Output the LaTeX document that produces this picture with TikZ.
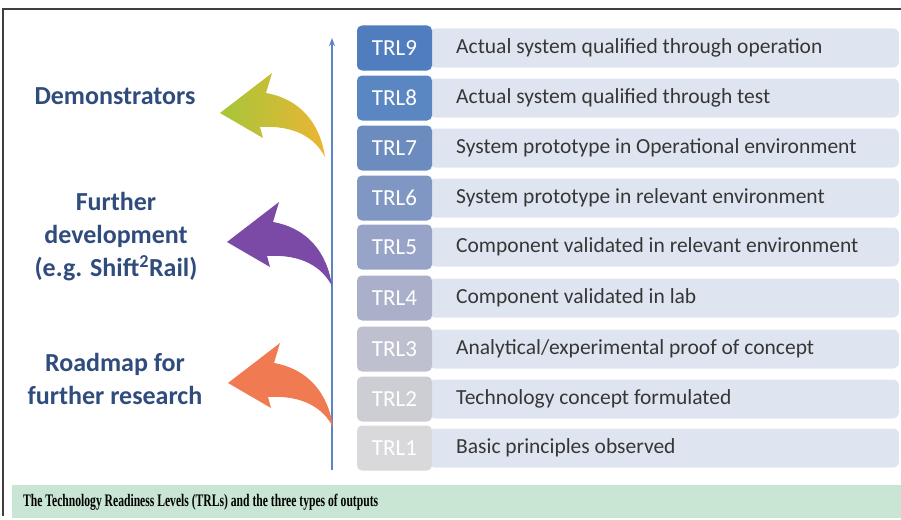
\documentclass[tikz,border=0pt]{standalone}
\usepackage{fontspec}
\setmainfont{Carlito}
\newfontfamily\capfont[FakeStretch=0.66]{Liberation Serif}
\usetikzlibrary{arrows.meta}
\definecolor{framec}{HTML}{404040}
\definecolor{capfill}{HTML}{C9E5D3}
\definecolor{barc}{HTML}{DFE5F0}
\definecolor{rowtxt}{HTML}{363636}
\definecolor{lbl}{HTML}{2F4C7C}
\definecolor{axisc}{HTML}{5B86C6}
\definecolor{t9}{HTML}{4F7DBE}
\definecolor{t8}{HTML}{5A86C2}
\definecolor{t7}{HTML}{6C8CC0}
\definecolor{t6}{HTML}{8097C3}
\definecolor{t5}{HTML}{97A4C7}
\definecolor{t4}{HTML}{AAB0CA}
\definecolor{t3}{HTML}{BEC0CF}
\definecolor{t2}{HTML}{CDCDD4}
\definecolor{t1}{HTML}{D9D9DC}
\definecolor{ygL}{HTML}{A6C63A}
\definecolor{ygR}{HTML}{EBB533}
\definecolor{purL}{HTML}{7A4AA6}
\definecolor{orL}{HTML}{F07A52}
\tikzset{
  bar/.style={fill=barc, rounded corners=6pt, minimum width=470pt, minimum height=39pt, inner sep=0pt},
  trlbox/.style={rounded corners=5pt, minimum width=75pt, minimum height=45pt, inner sep=0pt, text=white, font=\fontsize{23}{25}\selectfont},
  rowtext/.style={anchor=west, text=rowtxt, inner sep=0pt, font=\fontsize{21.5}{24}\selectfont},
  sidelbl/.style={text=lbl, align=center, inner sep=0pt, font=\bfseries\fontsize{26}{33}\selectfont},
  curvarrow/.pic={\path[pic actions] (0,0) -- (52,-40) -- (46,-20) .. controls (80,-14) and (100,10) .. (105,44) .. controls (95,25) and (75,12) .. (40,14) -- (43,25) -- cycle;}
}
\begin{document}
\begin{tikzpicture}[x=1pt,y=-1pt]
\useasboundingbox (0,0) rectangle (901,519);
\draw[framec, line width=1.2pt] (3,516) -- (3,9) -- (901,9);
\fill[capfill] (12,485) rectangle (901,518);
\node[anchor=base west, inner sep=0pt, text=black] (cap) at (23,506.5) {\capfont\bfseries\fontsize{17.6}{19}\selectfont The Technology Readiness Levels (TRLs) and the three types of outputs};
% rows
\foreach \i/\y/\t in {9/48/{Actual system qualified through operation},
                      8/98/{Actual system qualified through test},
                      7/148/{System prototype in Operational environment},
                      6/198/{System prototype in relevant environment},
                      5/247/{Component validated in relevant environment},
                      4/298/{Component validated in lab},
                      3/349/{Analytical/experimental proof of concept},
                      2/399/{Technology concept formulated},
                      1/448/{Basic principles observed}}{
  \node[bar] (bar\i) at (664,\y) {};
  \node[trlbox, fill=t\i] (trl\i) at (394.5,\y) {TRL\i};
  \node[rowtext] (txt\i) at (456,\y) {\t};
}
% vertical axis
\coordinate (vb) at (332,470);
\coordinate (vt) at (332,38);
\draw[axisc, line width=1.6pt, -{Stealth[length=8pt,width=6pt]}] (vb) -- (vt);
% side labels
\node[sidelbl] (demo) at (115,96) {Demonstrators};
\node[sidelbl] (further) at (116,237) {Further\\development\\(e.g. Shift\textsuperscript{2}Rail)};
\node[sidelbl] (road) at (115,379) {Roadmap for\\further research};
% curved arrows
\pic[left color=ygL, right color=ygR, shading angle=90] at (220,113) {curvarrow};
\pic[fill=purL] at (227,242) {curvarrow};
\pic[fill=orL] at (228,383) {curvarrow};
\end{tikzpicture}
\end{document}
